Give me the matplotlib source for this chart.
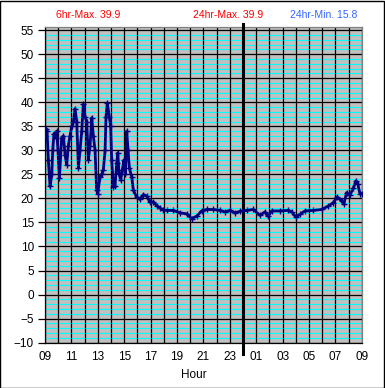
import matplotlib
matplotlib.use("Agg")
from matplotlib import pyplot as plt
import matplotlib.patches as patches

# hours since 09:00 and temperature readings
hours = [0.00, 0.08, 0.15, 0.25, 0.38, 0.51, 0.58, 0.68, 0.78, 0.88, 0.98,
         1.09, 1.26, 1.39, 1.52, 1.64, 1.77, 1.89, 2.02, 2.15, 2.27, 2.40,
         2.53, 2.65, 2.78, 2.90, 3.03, 3.16, 3.28, 3.41, 3.54, 3.66, 3.79,
         3.91, 3.99, 4.17, 4.29, 4.42, 4.55, 4.62, 4.72, 4.87, 4.97, 5.05,
         5.18, 5.30, 5.43, 5.51, 5.61, 5.73, 5.86, 5.98, 6.09, 6.19, 6.29,
         6.39, 6.57, 6.69, 6.94, 7.20, 7.45, 7.70, 7.95, 8.21, 8.46, 8.71,
         8.96, 9.22, 9.72, 10.23, 10.73, 11.11, 11.49, 11.87, 12.25, 12.75,
         13.26, 13.64, 14.02, 14.39, 14.77, 15.28, 15.78, 16.29, 16.67,
         16.92, 17.17, 17.80, 18.43, 18.69, 19.02, 19.32, 19.70, 20.33,
         20.96, 21.46, 21.84, 22.14, 22.47, 22.64, 22.85, 23.10, 23.36,
         23.56, 23.69, 23.86, 23.99]
temps = [33.0, 34.5, 34.0, 28.0, 22.5, 25.0, 30.0, 33.5, 33.0, 34.0, 30.0,
         24.2, 32.6, 33.0, 29.0, 27.0, 31.0, 33.0, 35.0, 36.0, 38.7, 36.0,
         26.3, 30.0, 34.0, 39.6, 37.0, 36.0, 28.0, 31.0, 36.8, 33.0, 30.0,
         21.7, 21.0, 24.5, 25.0, 26.0, 30.0, 37.0, 39.9, 37.0, 35.0, 28.0,
         22.4, 22.5, 27.3, 29.5, 25.2, 23.8, 26.0, 28.0, 25.0, 34.0, 30.0,
         26.3, 24.5, 21.7, 20.3, 19.8, 20.8, 20.5, 19.2, 19.3, 18.5, 18.0,
         17.6, 17.5, 17.5, 17.0, 16.8, 15.8, 16.3, 17.4, 17.7, 17.7,
         17.5, 17.2, 17.5, 17.0, 17.3, 17.5, 17.7, 16.5, 17.2,
         16.3, 17.4, 17.4, 17.5, 17.2, 16.1, 16.7, 17.4, 17.5,
         17.7, 18.4, 19.1, 20.3, 19.5, 18.8, 21.2, 20.7, 22.1,
         23.7, 23.1, 21.0, 21.0]

xtick_pos = [0, 2, 4, 6, 8, 10, 12, 14, 16, 18, 20, 22, 24]
xtick_labels = ["09", "11", "13", "15", "17", "19", "21", "23",
                "01", "03", "05", "07", "09"]
ytick_pos = [-10, -5, 0, 5, 10, 15, 20, 25, 30, 35, 40, 45, 50, 55]

plt.rcParams['font.family'] = ['Liberation Sans', 'DejaVu Sans']

fig = plt.figure(figsize=(3.85, 3.88), dpi=100)
ax = fig.add_axes([0.117, 0.117, 0.8226, 0.8144])
ax.set_facecolor("#C0C0C0")

# cyan minor lines every degree
for v in range(-10, 56):
    if v % 5 != 0:
        ax.axhline(v, color="#00FFFF", lw=0.8, zorder=1)
for v in ytick_pos:
    ax.axhline(v, color="black", lw=0.9, zorder=2)
for h in range(0, 25):
    ax.axvline(h, color="black", lw=0.9, zorder=2)

# midnight marker
ax.axvline(15, ymin=-0.035, ymax=1.008, color="black", lw=2.2,
           clip_on=False, zorder=3)

ax.plot(hours, temps, color="#000080", lw=2.0, marker="+", ms=4, mew=1.0,
        zorder=4)

ax.set_xlim(0, 24)
ax.set_ylim(-10, 55.75)
ax.set_xticks(xtick_pos)
ax.set_xticklabels(xtick_labels)
ax.set_yticks(ytick_pos)
ax.tick_params(axis="y", length=5, width=0.9, labelsize=8.5, pad=3)
ax.tick_params(axis="x", length=0, labelsize=8.5, pad=6)
ax.set_xlabel("Hour", fontsize=8.5, labelpad=4)
ax.xaxis.set_label_coords(0.47, -0.085)

for s in ["top", "right"]:
    ax.spines[s].set_color("#808080")
    ax.spines[s].set_linewidth(0.9)
for s in ["left", "bottom"]:
    ax.spines[s].set_color("black")
    ax.spines[s].set_linewidth(0.9)

fig.text(88 / 385, 1 - 15 / 388, "6hr-Max. 39.9", color="#FF0000",
         fontsize=7.5, ha="center", va="center")
fig.text(228 / 385, 1 - 15 / 388, "24hr-Max. 39.9", color="#FF0000",
         fontsize=7.5, ha="center", va="center")
fig.text(324 / 385, 1 - 15 / 388, "24hr-Min. 15.8", color="#3366FF",
         fontsize=7.5, ha="center", va="center")

fig.patches.append(patches.Rectangle((0.001, 0.001), 0.997, 0.997,
                                     transform=fig.transFigure, fill=False,
                                     edgecolor="black", lw=1.0))

plt.savefig("out.png", dpi=100)
